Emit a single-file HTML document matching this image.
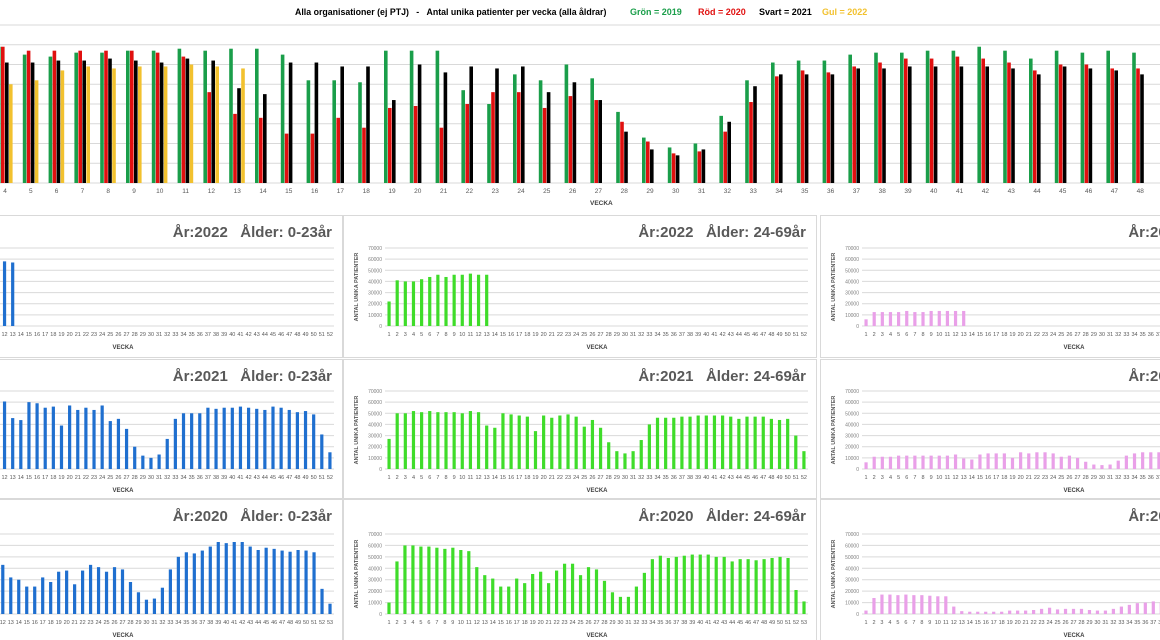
<!DOCTYPE html>
<html><head><meta charset="utf-8"><style>
html,body{margin:0;padding:0;background:#fff;}
svg{display:block;font-family:"Liberation Sans",sans-serif;}
</style></head><body>
<svg id="c" width="1160" height="640" viewBox="0 0 1160 640">
<rect x="0" y="0" width="1160" height="640" fill="#fff"/>
<text x="295" y="15" font-size="8.8" font-weight="bold" fill="#000">Alla organisationer (ej PTJ)&#160;&#160;&#160;-&#160;&#160;&#160;Antal unika patienter per vecka (alla åldrar)</text>
<text x="630" y="15" font-size="9" font-weight="bold" fill="#1a9e4a">Grön = 2019</text>
<text x="698" y="15" font-size="9" font-weight="bold" fill="#e0100f">Röd = 2020</text>
<text x="759" y="15" font-size="9" font-weight="bold" fill="#000">Svart = 2021</text>
<text x="822" y="15" font-size="9" font-weight="bold" fill="#f2c12e">Gul = 2022</text>
<g id="topchart"></g>
<g id="panels"></g>
</svg>
<script>
// ---- Top chart data (grid units; 1 unit = one gridline) ----
const topWeeks = [4,5,6,7,8,9,10,11,12,13,14,15,16,17,18,19,20,21,22,23,24,25,26,27,28,29,30,31,32,33,34,35,36,37,38,39,40,41,42,43,44,45,46,47,48];
const g2019 = [6.9,6.5,6.4,6.6,6.6,6.7,6.7,6.8,6.7,6.8,6.8,6.5,5.2,5.2,5.1,6.7,6.7,6.7,4.7,4.0,5.5,5.2,6.0,5.3,3.6,2.3,1.8,2.0,3.4,5.2,6.1,6.2,6.2,6.5,6.6,6.6,6.7,6.7,6.9,6.7,6.3,6.7,6.6,6.7,6.6];
const r2020 = [6.9,6.7,6.7,6.7,6.7,6.7,6.6,6.4,4.6,3.5,3.3,2.5,2.5,3.3,2.8,3.8,3.9,2.8,4.0,4.6,4.6,3.8,4.4,4.2,3.1,2.1,1.5,1.6,2.6,4.1,5.4,5.7,5.6,5.9,6.1,6.3,6.3,6.4,6.3,6.1,5.7,6.0,6.0,5.8,5.8];
const b2021 = [6.1,6.1,6.2,6.2,6.3,6.2,6.1,6.3,6.2,4.8,4.5,6.1,6.1,5.9,5.9,4.2,6.0,5.6,5.9,5.8,5.9,4.6,5.1,4.2,2.6,1.7,1.4,1.7,3.1,4.9,5.5,5.5,5.5,5.8,5.8,5.9,5.9,5.9,5.9,5.8,5.5,5.9,5.8,5.7,5.5];
const y2022 = [5.0,5.2,5.7,5.9,5.8,5.9,5.9,6.0,5.9,5.8];

// ---- Panel data (thousands of patients) ----
const young2022 = [57,58,58,59,58,59,59,58,59,58,58,58,57];
const young2021 = [55,60,61,61,61,61,60,61,60,61,61,60.6,45.7,43.9,60,59,55,56,39,57,53,55,53,57,43,45,36,20,12,10,13,27,45,50,50,50,55,54,55,55,56,55,54,53,56,55,53,51,52,49,31,15];
const young2020 = [20,45,55,56,55,55,54,53,54,52,50,43,32,30,24,24,32,28,37,38,26,38,43,41,37,41,39,28,19,12.5,13.5,23,39,50,54,53,55.5,59,63,62,63,63,59,56,58,57,55.5,54.5,56,55.5,54,22,9];
const mid2022 = [22,41,40,40,42,44,46,44,46,46,47,46,46];
const mid2021 = [27,50,50,52,51,52,51,51,51,50,52,51,39,37,50,49,48,47,34,48,46,48,49,47,38,44,37,24,16,14,16,26,40,46,46,46,47,47,48,48,48,48,47,45,47,47,47,45,44,45,30,16];
const mid2020 = [10,46,60,60,59,59,58,57,58,56,55,41,34,31,24,24,31,27,35,37,27,38,44,44,34,41,39,29,19,15,15,24,36,48,51,49,50,51,52,52,52,50,50,46,48,48,47,48,49,50,49,21,11];
const old2022 = [6,12.5,12.5,12.5,12.5,13.5,12.5,12.5,13.5,13.5,13.5,13.5,13.5];
const old2021 = [6,11,11,11,12,12,12,12,12,12,12,13,9.5,8.5,13,14,14,14,10,15,14,15,15,14,11,12,10,6.5,4,3.5,4,7.5,12,14,15,15,15,15,15,15,15,15,15,14,15,15,15,14,14,14,10,5];
const old2020 = [3,14,17,17,16.5,17,16.5,16.5,16,15.5,15.5,6.5,2.5,2,2,2,2,2,3,3,3,3.5,4.5,5.5,4,4.5,4.5,4.5,3.5,3,3,4.5,6.5,8,9.5,10,11,10,10,10,10,10,10,10,10,10,10,10,10,10,10,6,3];
const yTicks = [0,10000,20000,30000,40000,50000,60000,70000];

const NS = "http://www.w3.org/2000/svg";
function mk(tag, attrs, parent){const e=document.createElementNS(NS,tag);for(const k in attrs)e.setAttribute(k,attrs[k]);parent.appendChild(e);return e;}

// ---- Top chart ----
const topG = document.getElementById('topchart');
const tBase = 183, tUnit = 19.75;
const tx = w => 5 + (w-4)*25.8;
const ty = v => tBase - v*tUnit;
for(let i=0;i<=8;i++){
  const l = mk('line',{x1:0,x2:1160,y1:ty(i),y2:ty(i),stroke:'#d9d9d9','stroke-width':1},topG);
  
  
}
const series = [[g2019,'#1a9e4a',-8,'bar-2019'],[r2020,'#e0100f',-4,'bar-2020'],[b2021,'#000000',0,'bar-2021'],[y2022,'#f2c12e',4,'bar-2022']];
topWeeks.forEach((w,i)=>{
  series.forEach(s=>{
    const v = s[0][i];
    if(v===undefined) return;
    const r = mk('rect',{x:tx(w)+s[2],y:ty(v),width:3.6,height:tBase-ty(v),fill:s[1]},topG);
    
    
  });
  const t = mk('text',{x:tx(w),y:193,'font-size':6.5,fill:'#595959','text-anchor':'middle'},topG);
  t.textContent = w;
  
  
});
const vt = mk('text',{x:590,y:205,'font-size':6.5,'font-weight':'bold',fill:'#404040'},topG);
vt.textContent='VECKA';



// ---- Panels ----
const panelsG = document.getElementById('panels');
const cols = [[-131,young2022,young2021,young2020,'#1f6fcf','0-23år'],[343,mid2022,mid2021,mid2020,'#3fdc2a','24-69år'],[820,old2022,old2021,old2020,'#e9a0e8','70+år']];
const rows = [[215,142,'2022',248,326],[359,139,'2021',391,469],[499,141,'2020',534,614]];
cols.forEach(c=>{
  rows.forEach((r,ri)=>{
    const px=c[0], data=c[1+ri], color=c[4];
    const nW = ri===2?53:52;
    const g = mk('g',{},panelsG);
    
    
    const b = mk('rect',{x:px+0.5,y:r[0]+0.5,width:473,height:r[1],fill:'#fff',stroke:'#d9d9d9'},g);
    
    
    const pTop=r[3], pBot=r[4];
    const yv = v => pBot - v/70000*(pBot-pTop);
    yTicks.forEach(t=>{
      const l = mk('line',{x1:px+42,x2:px+465,y1:yv(t),y2:yv(t),stroke:'#d9d9d9','stroke-width':1},g);
      
      
      const tl = mk('text',{x:px+39,y:yv(t)+2,'font-size':5,fill:'#7f7f7f','text-anchor':'end'},g);
      tl.textContent = String(t);
      
      
    });
    const at = mk('text',{x:0,y:0,'font-size':5.5,'font-weight':'bold',fill:'#595959','text-anchor':'middle',transform:'translate('+(px+15)+','+((pTop+pBot)/2)+') rotate(-90)'},g);
    at.textContent='ANTAL UNIKA PATIENTER';
    
    
    const step = 423/nW;
    const xw = w => px+42 + (w-0.5)*step;
    for(let w=1;w<=nW;w++){
      const tl = mk('text',{x:xw(w),y:pBot+10,'font-size':5.5,fill:'#595959','text-anchor':'middle'},g);
      tl.textContent = w;
      
      
    }
    data.forEach((v,i)=>{
      const br = mk('rect',{x:xw(i+1)-1.6,y:yv(v*1000),width:3.2,height:pBot-yv(v*1000),fill:color},g);
      
      
    });
    const xt = mk('text',{x:px+254,y:pBot+23,'font-size':6,'font-weight':'bold',fill:'#404040','text-anchor':'middle'},g);
    xt.textContent='VECKA';
    
    
    const tt = mk('text',{x:px+463,y:r[0]+22,'font-size':15,'font-weight':'bold',fill:'#595959','text-anchor':'end'},g);
    tt.textContent='År:'+r[2]+'\u00a0\u00a0\u00a0Ålder: '+c[5];
    
    
  });
});
</script>
</body></html>
